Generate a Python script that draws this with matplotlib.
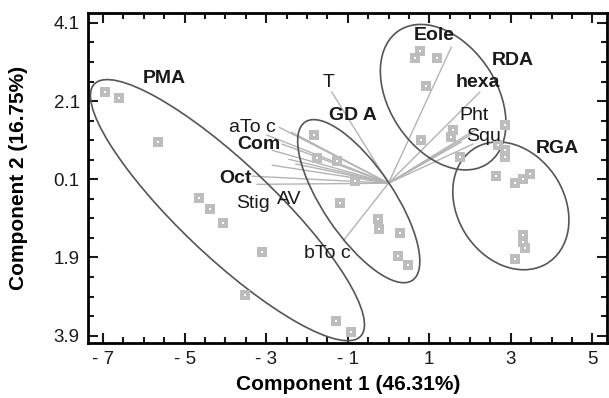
import numpy as np
import matplotlib
matplotlib.use("Agg")
import matplotlib.pyplot as plt
from matplotlib.patches import Ellipse
from matplotlib.ticker import FixedLocator

plt.rcParams['font.family'] = ['Liberation Sans', 'DejaVu Sans']

# sample scores (component 1, component 2)
pma_x = [-6.95, -6.61, -5.66, -4.66, -4.39, -4.05, -3.10, -3.51, -1.29, -0.93]
pma_y = [2.33, 2.17, 1.05, -0.39, -0.67, -1.03, -1.77, -2.87, -3.53, -3.81]
gda_x = [-1.83, -1.76, -1.27, -0.83, -1.20, -0.27, -0.24, 0.27, 0.24, 0.49]
gda_y = [1.23, 0.64, 0.56, 0.05, -0.51, -0.92, -1.18, -1.28, -1.87, -2.10]
rda_x = [0.66, 0.78, 1.20, 0.93, 0.80, 1.59, 1.54, 1.76, 2.85]
rda_y = [3.19, 3.37, 3.19, 2.48, 1.10, 1.35, 1.17, 0.66, 1.48]
rga_x = [2.68, 2.85, 2.85, 2.63, 3.10, 3.29, 3.46, 3.29, 3.29, 3.34, 3.10]
rga_y = [0.97, 0.84, 0.66, 0.18, 0.00, 0.10, 0.23, -1.33, -1.51, -1.66, -1.95]

# variable loadings (drawn from origin)
load_x = [-1.39, -2.68, -2.98, -2.37, -2.61, -2.85, -2.44, -2.85, -2.27, -3.34, -3.22,
          -1.10, 1.54, 2.24, 2.15, 2.00, 2.07, 1.78]
load_y = [2.33, 1.43, 1.23, 1.30, 1.00, 0.84, 0.61, 0.46, 0.49, 0.18, -0.03,
          -1.46, 3.48, 2.33, 1.38, 1.23, 1.00, 1.05]

# group ellipses: centre x, centre y, width, height, angle
ell_cx = [-3.95, -0.73, 1.34, 3.00]
ell_cy = [-0.69, -0.46, 2.20, -0.58]
ell_w = [9.18, 4.83, 4.04, 3.44]
ell_h = [2.35, 1.75, 2.65, 2.64]
ell_a = [-44.8, -57.3, -59.0, -61.0]

labels = ["PMA", "T", "GD A", "aTo c", "Com", "Oct", "Stig", "AV", "bTo c",
          "Eole", "RDA", "hexa", "Pht", "Squ", "RGA"]
lab_x = [-5.49, -1.46, -0.88, -3.34, -3.17, -3.76, -3.32, -2.44, -1.51,
         1.12, 3.05, 2.20, 2.10, 2.32, 4.15]
lab_y = [2.68, 2.58, 1.74, 1.43, 1.00, 0.13, -0.51, -0.41, -1.79,
         3.78, 3.14, 2.58, 1.74, 1.20, 0.89]
lab_bold = [True, False, True, False, True, True, False, False, False,
            True, True, True, False, False, True]

xticks = [-7, -5, -3, -1, 1, 3, 5]
xticklabels = ["- 7", "- 5", "- 3", "- 1", "1", "3", "5"]
yticks = [4.1, 2.1, 0.1, -1.9, -3.9]
yticklabels = ["4.1", "2.1", "0.1", "1.9", "3.9"]

fig = plt.figure(figsize=(6.09, 3.98), dpi=100)
ax = fig.add_axes([0.1445, 0.138, 0.853, 0.829])

for lx, ly in zip(load_x, load_y):
    ax.plot([0, lx], [0, ly], color="#b4b4b4", lw=1.0, zorder=1)

for cx, cy, w, h, a in zip(ell_cx, ell_cy, ell_w, ell_h, ell_a):
    ax.add_patch(Ellipse((cx, cy), w, h, angle=a, fill=False,
                         edgecolor="#555555", lw=1.2, zorder=2))

all_x = pma_x + gda_x + rda_x + rga_x
all_y = pma_y + gda_y + rda_y + rga_y
ax.scatter(all_x, all_y, marker="s", s=50, color="#bdbdbd", linewidths=0, zorder=3)
ax.scatter(all_x, all_y, marker="s", s=1.2, color="white", linewidths=0, zorder=4)

for t, x, y, b in zip(labels, lab_x, lab_y, lab_bold):
    ax.text(x, y, t, ha="center", va="center", fontsize=14,
            fontweight="bold" if b else "normal", color="#1a1a1a", zorder=5)

ax.set_xlim(-7.37, 5.37)
ax.set_ylim(-4.09, 4.35)
ax.set_xticks(xticks)
ax.set_xticklabels(xticklabels)
ax.set_yticks(yticks)
ax.set_yticklabels(yticklabels)
ax.xaxis.set_minor_locator(FixedLocator(np.arange(-7, 5.6, 0.5)))
ax.yaxis.set_minor_locator(FixedLocator(np.arange(-3.9, 4.2, 0.5)))
ax.tick_params(which="both", direction="in", top=True, right=True, width=1.5,
               labelsize=13.5, pad=6, colors="#1a1a1a")
ax.tick_params(which="major", length=7)
ax.tick_params(which="minor", length=4)
for s in ax.spines.values():
    s.set_linewidth(2)

ax.set_xlabel("Component 1 (46.31%)", fontsize=15, fontweight="bold", va="center")
ax.set_ylabel("Component 2 (16.75%)", fontsize=15, fontweight="bold", va="center")
ax.xaxis.set_label_coords(0.5, -0.127)
ax.yaxis.set_label_coords(-0.133, 0.5)

fig.savefig("out.png", dpi=100)
